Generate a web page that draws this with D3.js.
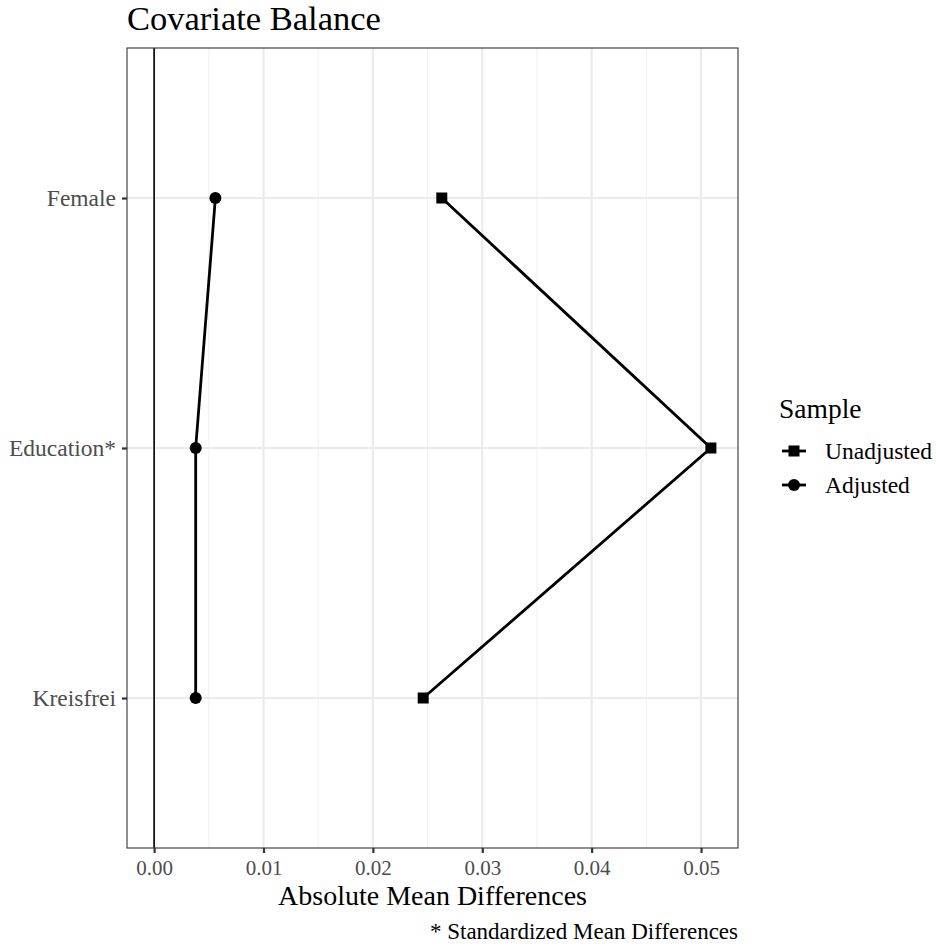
<!DOCTYPE html>
<html>
<head>
<meta charset="utf-8">
<script src="https://cdn.jsdelivr.net/npm/d3@7"></script>
<style>
  body { margin: 0; background: #fff; }
  text { font-family: "Liberation Serif", "DejaVu Serif", serif; }
</style>
</head>
<body>
<div id="chart"></div>
<script>
const covariates = ["Female", "Education*", "Kreisfrei"];
const unadjusted = [0.0263, 0.0509, 0.0246];
const adjusted = [0.0056, 0.0038, 0.0038];
const xTicks = [0, 0.01, 0.02, 0.03, 0.04, 0.05];
const samples = ["Unadjusted", "Adjusted"];

const W = 936, H = 947;
const panel = { left: 127, right: 738, top: 48, bottom: 848 };

const svg = d3.select("#chart").append("svg")
    .attr("width", W)
    .attr("height", H);

const x = d3.scaleLinear()
    .domain([-0.00248, 0.05338])
    .range([panel.left, panel.right]);

const y = d3.scalePoint()
    .domain(covariates)
    .range([panel.top, panel.bottom])
    .padding(0.6);

// minor grid
const minor = d3.range(0.005, 0.05, 0.01);
svg.append("g").selectAll("line")
    .data(minor)
    .join("line")
    .attr("x1", d => x(d)).attr("x2", d => x(d))
    .attr("y1", panel.top).attr("y2", panel.bottom)
    .attr("stroke", "#f2f2f2").attr("stroke-width", 1.1);

// major grid
svg.append("g").selectAll("line")
    .data(xTicks)
    .join("line")
    .attr("x1", d => x(d)).attr("x2", d => x(d))
    .attr("y1", panel.top).attr("y2", panel.bottom)
    .attr("stroke", "#ebebeb").attr("stroke-width", 2.2);

svg.append("g").selectAll("line")
    .data(covariates)
    .join("line")
    .attr("x1", panel.left).attr("x2", panel.right)
    .attr("y1", d => y(d)).attr("y2", d => y(d))
    .attr("stroke", "#ebebeb").attr("stroke-width", 2.2);

// zero line
svg.append("line")
    .attr("x1", x(0)).attr("x2", x(0))
    .attr("y1", panel.top).attr("y2", panel.bottom)
    .attr("stroke", "#000").attr("stroke-width", 1.6);

const line = d3.line()
    .x(d => x(d.value))
    .y(d => y(d.cov));

const unadjData = covariates.map((c, i) => ({ cov: c, value: unadjusted[i] }));
const adjData = covariates.map((c, i) => ({ cov: c, value: adjusted[i] }));

svg.append("path").datum(unadjData)
    .attr("d", line).attr("fill", "none")
    .attr("stroke", "#000").attr("stroke-width", 2.8);

svg.append("path").datum(adjData)
    .attr("d", line).attr("fill", "none")
    .attr("stroke", "#000").attr("stroke-width", 2.8);

const sq = 11;
svg.append("g").selectAll("rect")
    .data(unadjData)
    .join("rect")
    .attr("x", d => x(d.value) - sq / 2)
    .attr("y", d => y(d.cov) - sq / 2)
    .attr("width", sq).attr("height", sq)
    .attr("fill", "#000");

svg.append("g").selectAll("circle")
    .data(adjData)
    .join("circle")
    .attr("cx", d => x(d.value))
    .attr("cy", d => y(d.cov))
    .attr("r", 6)
    .attr("fill", "#000");

// panel border
svg.append("rect")
    .attr("x", panel.left).attr("y", panel.top)
    .attr("width", panel.right - panel.left)
    .attr("height", panel.bottom - panel.top)
    .attr("fill", "none")
    .attr("stroke", "#333").attr("stroke-width", 1.1);

// axes
const xAxis = svg.append("g")
    .attr("transform", `translate(0,${panel.bottom})`)
    .call(d3.axisBottom(x).tickValues(xTicks).tickFormat(d3.format(".2f")).tickSize(5).tickPadding(7));
xAxis.select(".domain").remove();
xAxis.selectAll("line").attr("stroke", "#333").attr("stroke-width", 2.2);
xAxis.selectAll("text").attr("fill", "#4d4d4d").style("font-size", "21px");

const yAxis = svg.append("g")
    .attr("transform", `translate(${panel.left},0)`)
    .call(d3.axisLeft(y).tickSize(5).tickPadding(6));
yAxis.select(".domain").remove();
yAxis.selectAll("line").attr("stroke", "#333").attr("stroke-width", 2.2);
yAxis.selectAll("text").attr("fill", "#4d4d4d").style("font-size", "23.5px");

// title
svg.append("text")
    .attr("x", panel.left).attr("y", 30)
    .style("font-size", "34.5px")
    .attr("fill", "#000")
    .text("Covariate Balance");

// x-axis title
svg.append("text")
    .attr("x", (panel.left + panel.right) / 2).attr("y", 905)
    .attr("text-anchor", "middle")
    .style("font-size", "28px")
    .text("Absolute Mean Differences");

// caption
svg.append("text")
    .attr("x", panel.right).attr("y", 939)
    .attr("text-anchor", "end")
    .style("font-size", "23px")
    .text("* Standardized Mean Differences");

// legend
const legend = svg.append("g").attr("transform", "translate(779,0)");
legend.append("text")
    .attr("x", 0).attr("y", 418)
    .style("font-size", "27.5px")
    .text("Sample");

const items = legend.selectAll("g.item")
    .data(samples)
    .join("g")
    .attr("class", "item")
    .attr("transform", (d, i) => `translate(0,${451 + i * 34})`);

items.append("line")
    .attr("x1", 3).attr("x2", 27)
    .attr("stroke", "#000").attr("stroke-width", 2.8);

items.filter(d => d === "Unadjusted").append("rect")
    .attr("x", 15 - sq / 2).attr("y", -sq / 2)
    .attr("width", sq).attr("height", sq)
    .attr("fill", "#000");

items.filter(d => d === "Adjusted").append("circle")
    .attr("cx", 15).attr("cy", 0).attr("r", 6)
    .attr("fill", "#000");

items.append("text")
    .attr("x", 46).attr("dy", "0.35em")
    .style("font-size", "23.5px")
    .text(d => d);
</script>
</body>
</html>
